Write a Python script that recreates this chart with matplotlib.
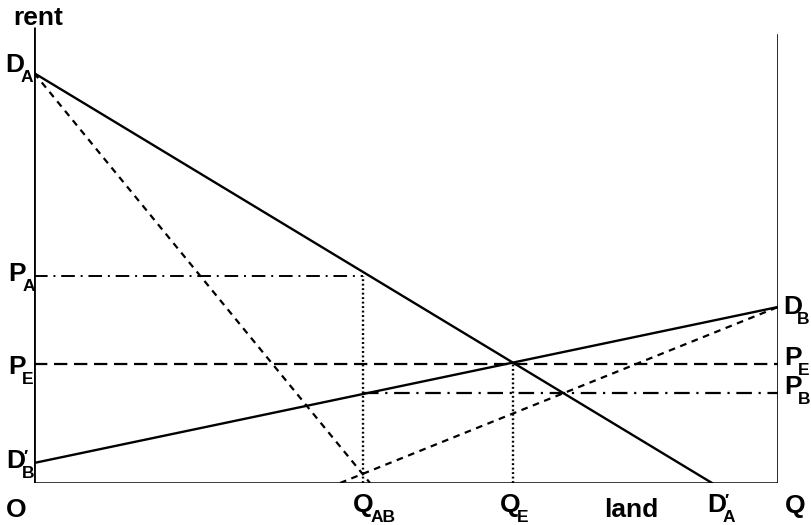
import matplotlib
matplotlib.use("Agg")
import matplotlib.pyplot as plt

# ---- data (land quantity on x, rent on y; arbitrary units) ----
Q_MAX = 744          # total land (right vertical axis)
DA = [410, 0]        # D_A intercept (rent at Q=0) ; D_A' at x
DA_X = 678           # D_A' (quantity where demand A reaches zero)
DB = [20, 176]       # D_B' at Q=0, D_B at Q=Q_MAX
MRB_X = 306          # where B's dashed line hits the axis
MRA_X = 336          # where A's dashed line hits the axis
Q_AB = 329
Q_E = 479
P_A = 207
P_E = 119
P_B = 90
LEFT_TOP = 456
RIGHT_TOP = 448

fig = plt.figure(figsize=(8.11, 5.25), dpi=100)
ax = fig.add_axes([34/811, 42/525, 744/811, 483/525])
ax.set_xlim(0, 744)
ax.set_ylim(0, 483)
ax.axis('off')

k = 'black'
# axes
ax.plot([0, 0], [0, LEFT_TOP], color=k, lw=2.0, solid_capstyle='butt')
ax.plot([0, Q_MAX], [0, 0], color=k, lw=1.8)
ax.plot([Q_MAX, Q_MAX], [0, RIGHT_TOP], color=k, lw=1.9)

# demand curves
ax.plot([0, DA_X], [DA[0], DA[1]], color=k, lw=1.7)
ax.plot([0, Q_MAX], [DB[0], DB[1]], color=k, lw=1.7)

# dashed marginal lines
ax.plot([0, MRA_X], [DA[0], 0], color=k, lw=1.6, dashes=(3, 2.5))
ax.plot([MRB_X, Q_MAX], [0, DB[1]], color=k, lw=1.6, dashes=(3, 2.5))

# P_E dashed
ax.plot([0, Q_MAX], [P_E, P_E], color=k, lw=1.6, dashes=(6, 3))
# P_A and P_B dash-dot
ax.plot([0, Q_AB], [P_A, P_A], color=k, lw=1.4, dashes=(7, 3, 1, 3))
ax.plot([Q_AB, Q_MAX], [P_B, P_B], color=k, lw=1.6, dashes=(7, 3, 1, 3))
# dotted verticals
ax.plot([Q_AB, Q_AB], [0, P_A], color=k, lw=1.7, dashes=(0.8, 1.1))
ax.plot([Q_E, Q_E], [0, P_E], color=k, lw=1.7, dashes=(0.8, 1.1))

fs = 19
fss = 12.5
tk = dict(color=k, fontweight='bold', family='Liberation Sans', clip_on=False)

def lab(x, y, main, sub=None, prime=False, dx=-2.5):
    t = ax.text(x, y, main, fontsize=fs, va='center', ha='left', **tk)
    if sub:
        ax.annotate(sub, xy=(1, 0), xycoords=t, xytext=(dx, 5),
                    textcoords='offset points', fontsize=fss,
                    va='top', ha='left', **tk)
    if prime:
        ax.annotate("\u2032", xy=(1, 1), xycoords=t, xytext=(-1.5, -1),
                    textcoords='offset points', fontsize=fss,
                    va='top', ha='left', **tk)
    return t

ax.text(-21, 465, "rent", fontsize=fs, va='center', ha='left', **tk)
lab(-29, 418, "D", "A")
lab(-26, 209, "P", "A")
lab(-26, 116, "P", "E")
lab(-28, 22, "D", "B", prime=True)
ax.text(-28, -27, "O", fontsize=fs, va='center', ha='left', **tk)
lab(319, -22, "Q", "AB")
lab(466, -22, "Q", "E")
ax.text(570, -27, "land", fontsize=fs, va='center', ha='left', **tk)
lab(673, -22, "D", "A", prime=True)
ax.text(751, -23, "Q", fontsize=fs, va='center', ha='left', **tk)
lab(749, 176, "D", "B", dx=-3.5)
lab(750, 125, "P", "E", dx=-3)
lab(750, 96, "P", "B", dx=-3)

fig.savefig("out.png", dpi=100)
